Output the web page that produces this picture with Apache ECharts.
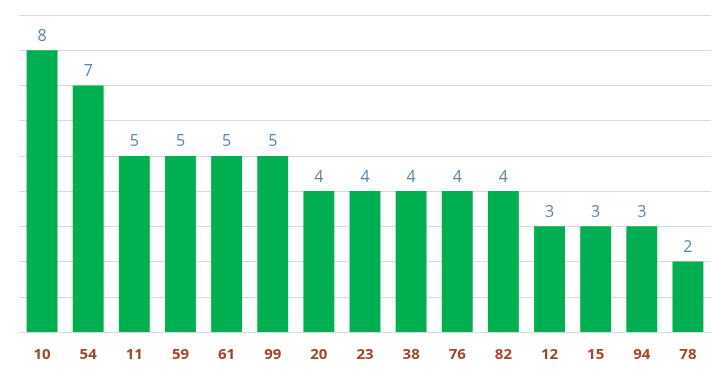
<!DOCTYPE html>
<html><head><meta charset="utf-8">
<script src="https://cdn.jsdelivr.net/npm/echarts@6/dist/echarts.min.js"></script>
<style>html,body{margin:0;padding:0;background:#fff}#c{width:721px;height:373px}</style>
</head><body><div id="c"></div>
<script>
const categories = ['10','54','11','59','61','99','20','23','38','76','82','12','15','94','78'];
const values = [8,7,5,5,5,5,4,4,4,4,4,3,3,3,2];
const chart = echarts.init(document.getElementById('c'), null, {renderer:'canvas'});
chart.setOption({
  animation:false,
  grid:{left:19,right:10,top:15,bottom:41},
  xAxis:{type:'category',data:categories,
    axisLine:{show:true,lineStyle:{color:'#d9d9d9'}},axisTick:{show:false},
    axisLabel:{color:'#a0482a',fontWeight:'bold',fontSize:15,fontFamily:'Open Sans',margin:15}},
  yAxis:{type:'value',min:0,max:9,interval:1,
    axisLabel:{show:false},axisLine:{show:false},axisTick:{show:false},
    splitLine:{lineStyle:{color:'#d9d9d9'}}},
  series:[{type:'bar',data:values,barWidth:'67%',
    itemStyle:{color:'#00b050'},
    label:{show:true,position:'top',color:'#5a87a8',fontSize:16,fontFamily:'Open Sans',distance:6}}]
});
</script></body></html>
